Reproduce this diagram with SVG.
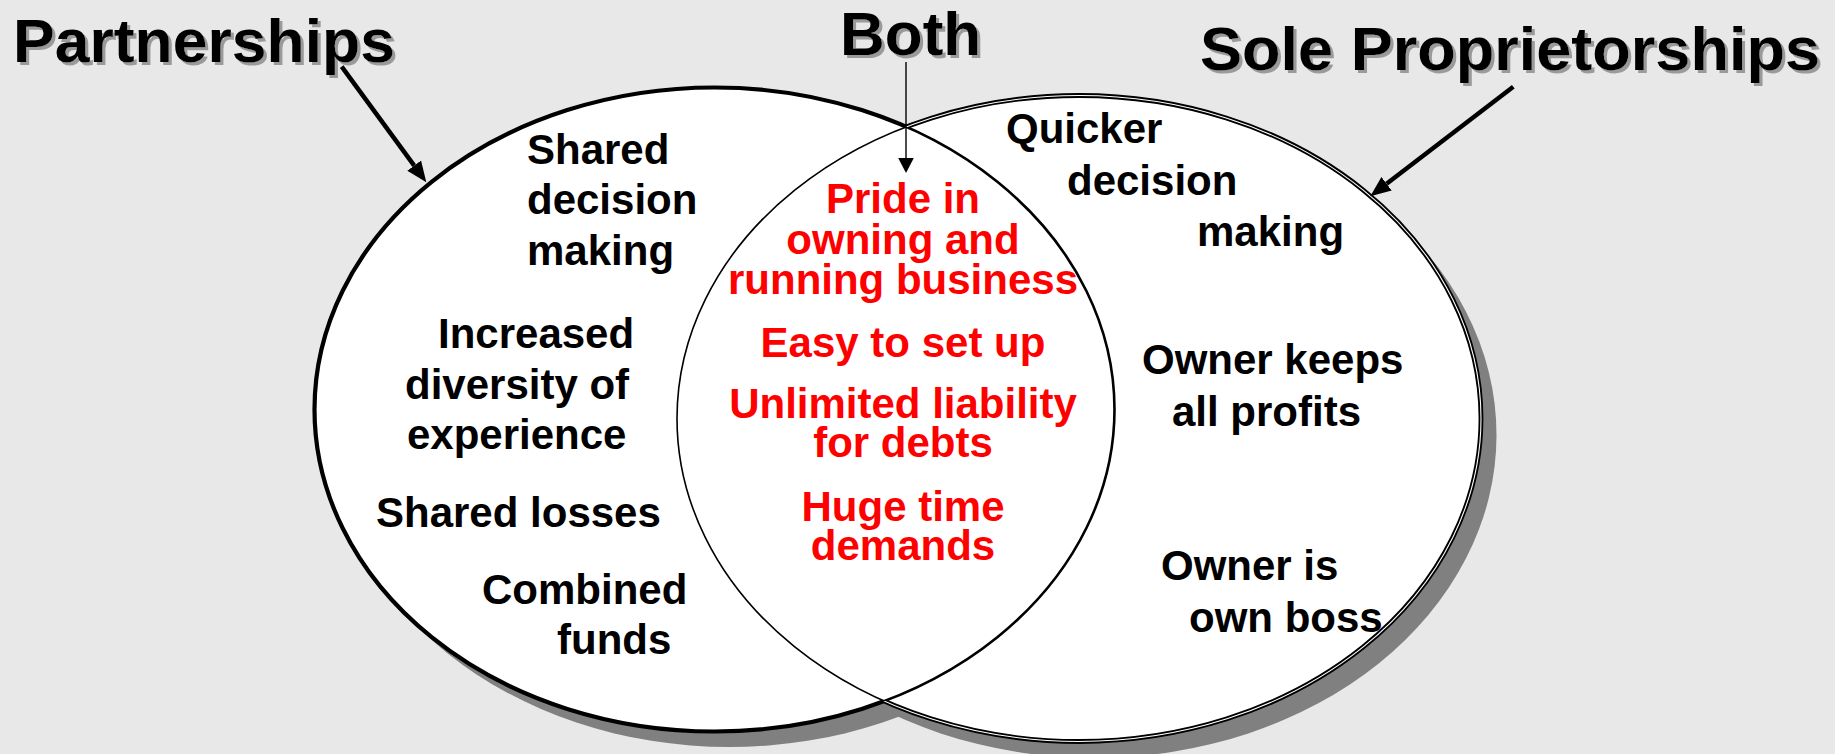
<svg xmlns="http://www.w3.org/2000/svg" width="1835" height="754" viewBox="0 0 1835 754">
  <style>
    .t { font-family: "Liberation Sans", Arial, Helvetica, sans-serif; font-weight: bold; }
    .title { font-size: 62px; fill: #000; filter: url(#tshadow); }
    .body { font-size: 42px; fill: #000; }
    .red { font-size: 42px; fill: #ff0000; text-anchor: middle; }
    .shadow { fill: #808080; }
    .fill { fill: #ffffff; stroke: none; }
    .out { fill: none; stroke: #000; }
    .conn { stroke: #000; fill: none; }
  </style>
  <defs>
    <filter id="tshadow" x="-5%" y="-20%" width="115%" height="150%">
      <feDropShadow dx="3" dy="3" stdDeviation="0" flood-color="#9a9a9a" flood-opacity="1"/>
    </filter>
    <clipPath id="inL"><ellipse cx="714.5" cy="409.5" rx="400" ry="322"/></clipPath>
    <clipPath id="inR"><ellipse cx="1079" cy="418.5" rx="402" ry="323"/></clipPath>
    <clipPath id="outL"><path clip-rule="evenodd" d="M0,0H1835V754H0Z M314.5,409.5 a400,322 0 1,0 800,0 a400,322 0 1,0 -800,0 Z"/></clipPath>
    <clipPath id="outR"><path clip-rule="evenodd" d="M0,0H1835V754H0Z M677,418.5 a402,323 0 1,0 804,0 a402,323 0 1,0 -804,0 Z"/></clipPath>
    <marker id="headBig" markerUnits="userSpaceOnUse" viewBox="0 -9 21 18" markerWidth="21" markerHeight="18" refX="0" refY="0" orient="auto">
      <path d="M0,-8.5 L20.5,0 L0,8.5 Z" fill="#000"/>
    </marker>
    <marker id="headSmall" markerUnits="userSpaceOnUse" viewBox="0 -8 15 16" markerWidth="15" markerHeight="16" refX="0" refY="0" orient="auto">
      <path d="M0,-7.8 L15,0 L0,7.8 Z" fill="#000"/>
    </marker>
  </defs>

  <rect x="0" y="0" width="1835" height="754" fill="#e8e8e8"/>

  <!-- shadows and fills -->
  <g id="circle-fills">
    <ellipse class="shadow" cx="729.5" cy="425" rx="400" ry="322"/>
    <ellipse class="shadow" cx="1094.5" cy="435" rx="402" ry="323"/>
    <ellipse class="fill" cx="714.5" cy="409.5" rx="400" ry="322"/>
    <ellipse class="fill" cx="1079" cy="418.5" rx="402" ry="323"/>
  </g>

  <!-- Partnerships circle outline -->
  <g id="partnerships-circle">
    <ellipse class="out" cx="714.5" cy="409.5" rx="400" ry="322" stroke-width="4.2" clip-path="url(#outR)"/>
    <ellipse class="out" cx="714.5" cy="409.5" rx="400" ry="322" stroke-width="2.6" clip-path="url(#inR)"/>
  </g>

  <!-- Sole proprietorships circle outline (double line) -->
  <g id="sole-circle">
    <g clip-path="url(#outL)">
      <ellipse class="out" cx="1079" cy="418.5" rx="402" ry="323" stroke-width="4.8"/>
      <ellipse cx="1079" cy="418.5" rx="402" ry="323" fill="none" stroke="#ffffff" stroke-width="1.1"/>
    </g>
    <ellipse class="out" cx="1079" cy="418.5" rx="402" ry="323" stroke-width="1.6" clip-path="url(#inL)"/>
  </g>

  <!-- connectors -->
  <g id="connectors">
    <line class="conn" x1="341.7" y1="66.7" x2="414.2" y2="165.6" stroke-width="4.5" marker-end="url(#headBig)"/>
    <line class="conn" x1="1513.3" y1="86.7" x2="1386.6" y2="183.8" stroke-width="4.5" marker-end="url(#headBig)"/>
    <line class="conn" x1="906" y1="62" x2="906" y2="158" stroke-width="1.4" marker-end="url(#headSmall)"/>
  </g>

  <!-- titles -->
  <g id="title-partnerships"><text class="t title" x="13" y="62" textLength="382" lengthAdjust="spacingAndGlyphs">Partnerships</text></g>
  <g id="title-both"><text class="t title" x="840" y="55">Both</text></g>
  <g id="title-sole"><text class="t title" x="1200" y="70" textLength="620" lengthAdjust="spacingAndGlyphs">Sole Proprietorships</text></g>

  <!-- Partnerships items -->
  <g id="partnerships-items" class="t body">
    <text x="527" y="164">Shared</text>
    <text x="527" y="214">decision</text>
    <text x="527" y="265">making</text>
    <text x="438" y="348">Increased</text>
    <text x="405" y="399">diversity of</text>
    <text x="407" y="449">experience</text>
    <text x="376" y="527">Shared losses</text>
    <text x="482" y="604">Combined</text>
    <text x="557" y="654">funds</text>
  </g>

  <!-- Both items -->
  <g id="both-items" class="t red">
    <text x="903" y="213">Pride in</text>
    <text x="903" y="254">owning and</text>
    <text x="903" y="294">running business</text>
    <text x="903" y="357">Easy to set up</text>
    <text x="903" y="418">Unlimited liability</text>
    <text x="903" y="457">for debts</text>
    <text x="903" y="521">Huge time</text>
    <text x="903" y="560">demands</text>
  </g>

  <!-- Sole proprietorship items -->
  <g id="sole-items" class="t body">
    <text x="1006" y="143">Quicker</text>
    <text x="1067" y="195">decision</text>
    <text x="1197" y="246">making</text>
    <text x="1142" y="374">Owner keeps</text>
    <text x="1172" y="426">all profits</text>
    <text x="1161" y="580">Owner is</text>
    <text x="1189" y="632">own boss</text>
  </g>
</svg>
